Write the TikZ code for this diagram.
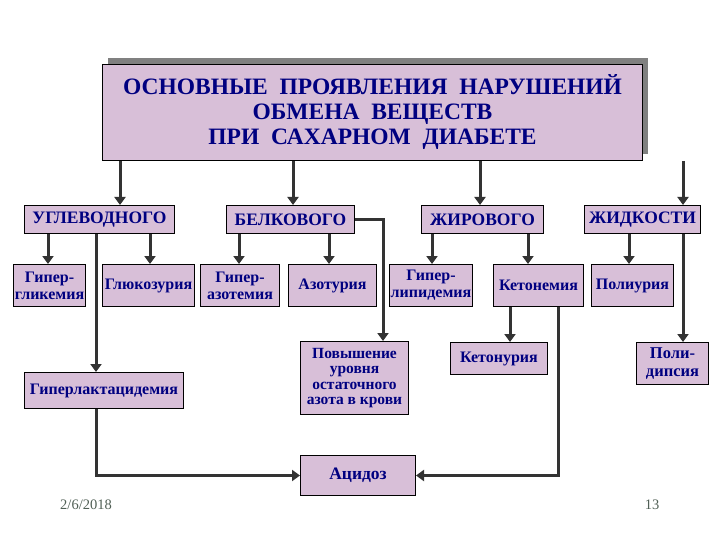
\documentclass[tikz,border=0pt]{standalone}
\usepackage{fontspec}
\setmainfont{Liberation Serif}
\usepackage{xcolor}
\usepackage{tikz}
\usetikzlibrary{arrows.meta, positioning, calc}

\definecolor{boxfill}{RGB}{216,191,216}
\definecolor{boxtext}{RGB}{0,0,128}
\definecolor{linegray}{RGB}{51,51,51}
\definecolor{footgray}{RGB}{80,95,85}

\begin{document}
\begin{tikzpicture}[
    x=1pt, y=-1pt,
    box/.style={draw=black, line width=1pt, fill=boxfill, text=boxtext,
        align=center, inner sep=0pt, anchor=north west},
    cat/.style={box, font=\fontsize{17.5}{20}\selectfont\bfseries, minimum height=28pt},
    sub/.style={box, font=\fontsize{16}{17}\selectfont\bfseries},
    link/.style={line width=3pt, linegray},
    arr/.style={link, -{Triangle[length=8pt,width=11pt]}}
]
\useasboundingbox (0,0) rectangle (720,540);

% Title with shadow
\fill[gray] (108,58) rectangle (648,154);
\node[box, font=\fontsize{23.5}{25}\selectfont\bfseries, minimum width=540pt, minimum height=96pt]
    (title) at (102,64) {ОСНОВНЫЕ\ \ ПРОЯВЛЕНИЯ\ \ НАРУШЕНИЙ\\ОБМЕНА\ \ ВЕЩЕСТВ\\ПРИ\ \ САХАРНОМ\ \ ДИАБЕТЕ};

% Kinds of metabolism
\node[cat, minimum width=150pt] (uglev) at (24,205) {УГЛЕВОДНОГО};
\node[cat, minimum width=128pt] (belk)  at (226,205) {БЕЛКОВОГО};
\node[cat, minimum width=122pt] (zhir)  at (421,205) {ЖИРОВОГО};
\node[cat, minimum width=116pt] (zhidk) at (584,205) {ЖИДКОСТИ};

% Second row
\node[sub, minimum width=72pt, minimum height=42pt] (gipergl)  at (13,264)  {Гипер-\\гликемия};
\node[sub, minimum width=92pt, minimum height=42pt] (gluk)     at (102,264) {Глюкозурия};
\node[sub, minimum width=79pt, minimum height=42pt] (giperaz)  at (200,264) {Гипер-\\азотемия};
\node[sub, minimum width=88pt, minimum height=42pt] (azot)     at (288,264) {Азотурия};
\node[sub, minimum width=83pt, minimum height=42pt] (giperlip) at (389,264) {Гипер-\\липидемия};
\node[sub, minimum width=90pt, minimum height=42pt] (ketonem)  at (493,264) {Кетонемия};
\node[sub, minimum width=82pt, minimum height=42pt] (poliur)   at (591,264) {Полиурия};

% Third row
\node[sub, minimum width=159pt, minimum height=36pt] (giperlakt) at (24,372) {Гиперлактацидемия};
\node[sub, font=\fontsize{15.5}{15.3}\selectfont\bfseries, minimum width=108pt, minimum height=73pt]
    (povysh) at (300,341) {Повышение\\уровня\\остаточного\\азота в крови};
\node[sub, minimum width=97pt, minimum height=32pt] (ketonur)  at (450,342) {Кетонурия};
\node[sub, font=\fontsize{16.5}{18}\selectfont\bfseries, minimum width=72pt, minimum height=42pt]
    (polidips) at (636,342) {Поли-\\дипсия};
\node[sub, font=\fontsize{17.5}{18}\selectfont\bfseries, minimum width=115pt, minimum height=40pt]
    (acidoz) at (300,455) {Ацидоз};

% Footer
\node[text=footgray, font=\fontsize{14.5}{16}\selectfont] (date) at (86,505) {2/6/2018};
\node[text=footgray, font=\fontsize{14.5}{16}\selectfont] (page) at (652,505) {13};

% Title to kinds
\draw[arr] (title.south -| 120,0) -- (uglev.north -| 120,0);
\draw[arr] (title.south -| 293,0) -- (belk.north -| 293,0);
\draw[arr] (title.south -| 480,0) -- (zhir.north -| 480,0);
\draw[arr] (title.south -| 683,0) -- (zhidk.north -| 683,0);

% Carbohydrate
\draw[arr] (uglev.south -| 48,0) -- (gipergl.north -| 48,0);
\draw[arr] (uglev.south -| 150,0) -- (gluk.north -| 150,0);
\draw[arr] (uglev.south -| 96,0) -- (giperlakt.north -| 96,0);

% Protein
\draw[arr] (belk.south -| 239,0) -- (giperaz.north -| 239,0);
\draw[arr] (belk.south -| 329,0) -- (azot.north -| 329,0);
\draw[arr] (belk.east) -| (povysh.north -| 383,0);

% Fat
\draw[arr] (zhir.south -| 432,0) -- (giperlip.north -| 432,0);
\draw[arr] (zhir.south -| 528,0) -- (ketonem.north -| 528,0);
\draw[arr] (ketonem.south -| 510,0) -- (ketonur.north -| 510,0);

% Fluid
\draw[arr] (zhidk.south -| 629,0) -- (poliur.north -| 629,0);
\draw[arr] (zhidk.south -| 683,0) -- (polidips.north -| 683,0);

% To acidosis
\draw[arr] (giperlakt.south -| 96,0) |- (acidoz.west);
\draw[arr] (ketonem.south -| 558,0) |- (acidoz.east);

\end{tikzpicture}
\end{document}
